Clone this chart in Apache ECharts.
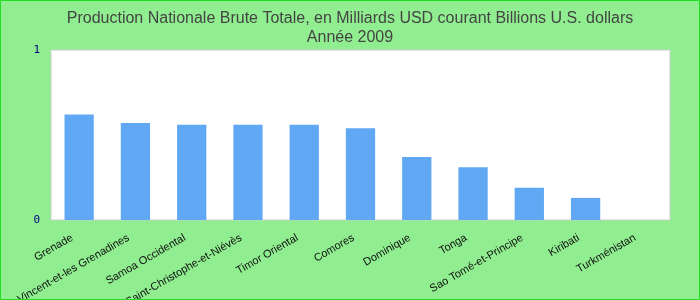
<!DOCTYPE html>
<html><head><meta charset="utf-8">
<script src="https://cdn.jsdelivr.net/npm/echarts@6/dist/echarts.min.js"></script>
<style>html,body{margin:0;padding:0;}#c{width:700px;height:300px;}</style>
</head><body><div id="c"></div>
<script>
const titleText = "Production Nationale Brute Totale, en Milliards USD courant Billions U.S. dollars\nAnnée 2009";
const categories = ["Grenade","Saint-Vincent-et-les Grenadines","Samoa Occidental","Saint-Christophe-et-Niévès","Timor Oriental","Comores","Dominique","Tonga","Sao Tomé-et-Principe","Kiribati","Turkménistan"];
const values = [0.62, 0.57, 0.56, 0.56, 0.56, 0.54, 0.37, 0.31, 0.19, 0.13, null];
const yTicks = [0, 1];

const chart = echarts.init(document.getElementById('c'), null, {renderer:'canvas'});
chart.setOption({
  backgroundColor: '#90EE90',
  animation: false,
  title: {
    text: titleText, left: 'center', top: 4,
    textStyle: {fontFamily: 'Liberation Sans', fontSize: 16, fontWeight: 'normal', color: '#444', lineHeight: 19}
  },
  graphic: [{type:'rect', shape:{x:0.5,y:0.5,width:699,height:299}, style:{fill:'none', stroke:'#22dd22', lineWidth:1}, z:100}],
  grid: {left: 51, right: 30, top: 50, bottom: 80, show: true, backgroundColor: '#fff', borderColor: '#ccc', borderWidth: 1, outerBoundsMode: 'none', containLabel: false},
  xAxis: {
    type: 'category', data: categories,
    axisLine: {show: false}, axisTick: {show: false},
    axisLabel: {rotate: 30, interval: 0, fontFamily: 'Liberation Sans', fontSize: 11, color: '#111', margin: 13, padding: [0, 8, 0, 0]}
  },
  yAxis: {
    type: 'value', min: yTicks[0], max: yTicks[1], interval: 1,
    splitLine: {show: false}, axisLine: {show: false}, axisTick: {show: false},
    axisLabel: {fontFamily: 'DejaVu Sans Mono', fontSize: 11, color: '#000080', margin: 11}
  },
  series: [{type: 'bar', data: values, barWidth: '52%', itemStyle: {color: '#60A8F4'}}]
});
</script></body></html>
